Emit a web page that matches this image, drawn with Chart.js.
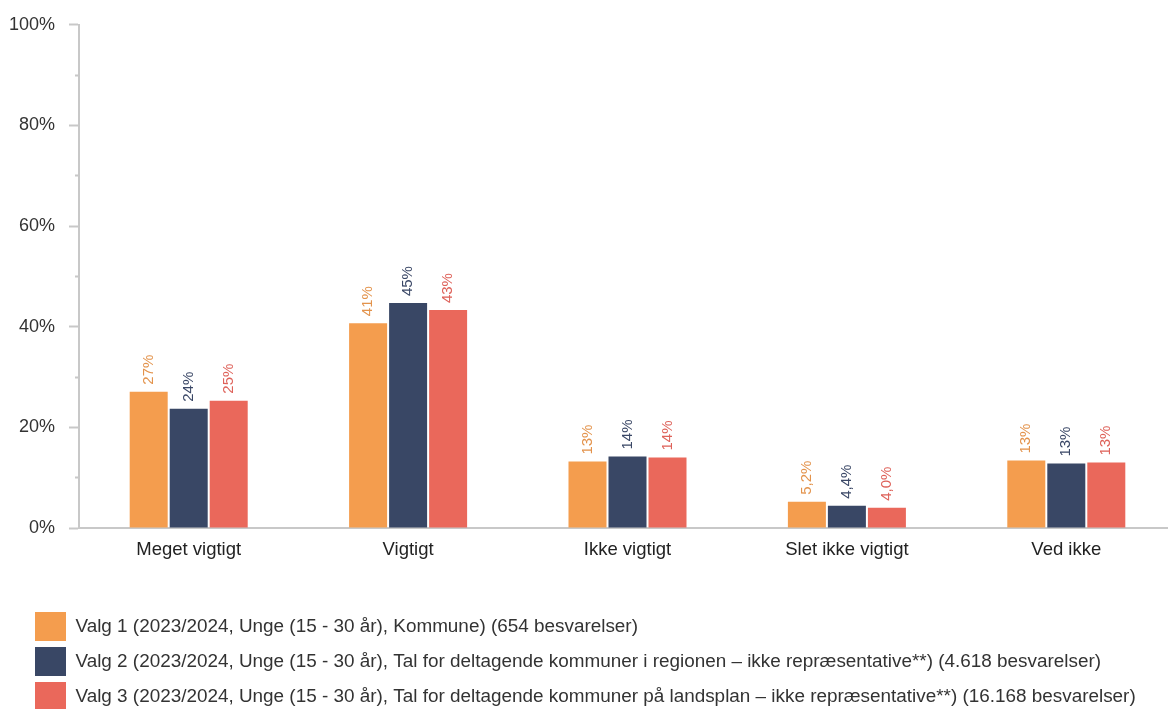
<!DOCTYPE html>
<html>
<head>
<meta charset="utf-8">
<script src="https://cdn.jsdelivr.net/npm/chart.js@4/dist/chart.umd.min.js"></script>
<style>
  html, body { margin: 0; padding: 0; background: #fff; overflow: hidden; }
  #wrap { width: 1176px; height: 721px; position: relative; }
</style>
</head>
<body>
<div id="wrap"><canvas id="chart"></canvas></div>
<script>
// categories and series values (percent)
const categories = ['Meget vigtigt', 'Vigtigt', 'Ikke vigtigt', 'Slet ikke vigtigt', 'Ved ikke'];
const valg1 = [27.1, 40.7, 13.2, 5.2, 13.4];
const valg2 = [23.7, 44.7, 14.2, 4.4, 12.8];
const valg3 = [25.3, 43.3, 14.0, 4.0, 13.0];
const seriesNames = [
    'Valg 1 (2023/2024, Unge (15 - 30 år), Kommune) (654 besvarelser)',
    'Valg 2 (2023/2024, Unge (15 - 30 år), Tal for deltagende kommuner i regionen – ikke repræsentative**) (4.618 besvarelser)',
    'Valg 3 (2023/2024, Unge (15 - 30 år), Tal for deltagende kommuner på landsplan – ikke repræsentative**) (16.168 besvarelser)'
];
const barColors = ['#F49D4E', '#394765', '#EA685B'];
const labelColors = ['#E3934C', '#3A4766', '#DE625A'];

Chart.defaults.font.family = '"Liberation Sans", Arial, sans-serif';
Chart.defaults.color = '#333';

const fmt = v => v >= 10 ? Math.round(v) + '%' : v.toFixed(1).replace('.', ',') + '%';

// rotated value labels above bars
const barLabels = {
    id: 'barLabels',
    afterDatasetsDraw(chart) {
        const ctx = chart.ctx;
        ctx.save();
        ctx.font = '15px "Liberation Sans", Arial, sans-serif';
        ctx.textAlign = 'left';
        ctx.textBaseline = 'middle';
        chart.data.datasets.forEach((ds, i) => {
            const meta = chart.getDatasetMeta(i);
            ctx.fillStyle = labelColors[i];
            meta.data.forEach((bar, j) => {
                ctx.save();
                ctx.translate(bar.x, bar.y - 7);
                ctx.rotate(-Math.PI / 2);
                ctx.fillText(fmt(ds.data[j]), 0, 0);
                ctx.restore();
            });
        });
        ctx.restore();
    }
};

// push the legend in a bit from the left edge
const legendShift = {
    id: 'legendShift',
    afterLayout(chart) {
        chart.legend.left += 29;
    }
};

new Chart(document.getElementById('chart'), {
    type: 'bar',
    data: {
        labels: categories,
        datasets: [valg1, valg2, valg3].map((d, i) => ({
            label: seriesNames[i],
            data: d,
            backgroundColor: barColors[i],
            categoryPercentage: 0.547,
            barPercentage: 0.95
        }))
    },
    options: {
        responsive: true,
        maintainAspectRatio: false,
        animation: false,
        layout: { padding: { left: 0, right: 0, top: 14, bottom: 0 } },
        plugins: {
            tooltip: { enabled: false },
            legend: {
                position: 'bottom',
                align: 'start',
                labels: {
                    boxWidth: 31,
                    boxHeight: 29,
                    padding: 6,
                    color: '#333',
                    font: { size: 18.9 }
                }
            }
        },
        scales: {
            x: {
                grid: { display: false },
                border: { color: '#c8c8c8', width: 2 },
                ticks: { color: '#222', font: { size: 18.5 }, padding: 3, maxRotation: 0 },
                afterFit: s => { s.height = 78; }
            },
            y: {
                min: 0,
                max: 100,
                afterFit: s => { s.width = 79; },
                border: { color: '#c8c8c8', width: 2 },
                grid: {
                    drawOnChartArea: false,
                    color: '#c8c8c8',
                    tickColor: '#c8c8c8',
                    tickLength: 10,
                    tickWidth: 2,
                    tickBorderDash: c => (c.tick && c.tick.value % 20 !== 0) ? [0, 6, 4, 0] : []
                },
                ticks: {
                    stepSize: 10,
                    autoSkip: false,
                    padding: 14,
                    color: '#333',
                    font: { size: 18 },
                    callback: v => v % 20 === 0 ? v + '%' : ''
                }
            }
        }
    },
    plugins: [barLabels, legendShift]
});
</script>
</body>
</html>
